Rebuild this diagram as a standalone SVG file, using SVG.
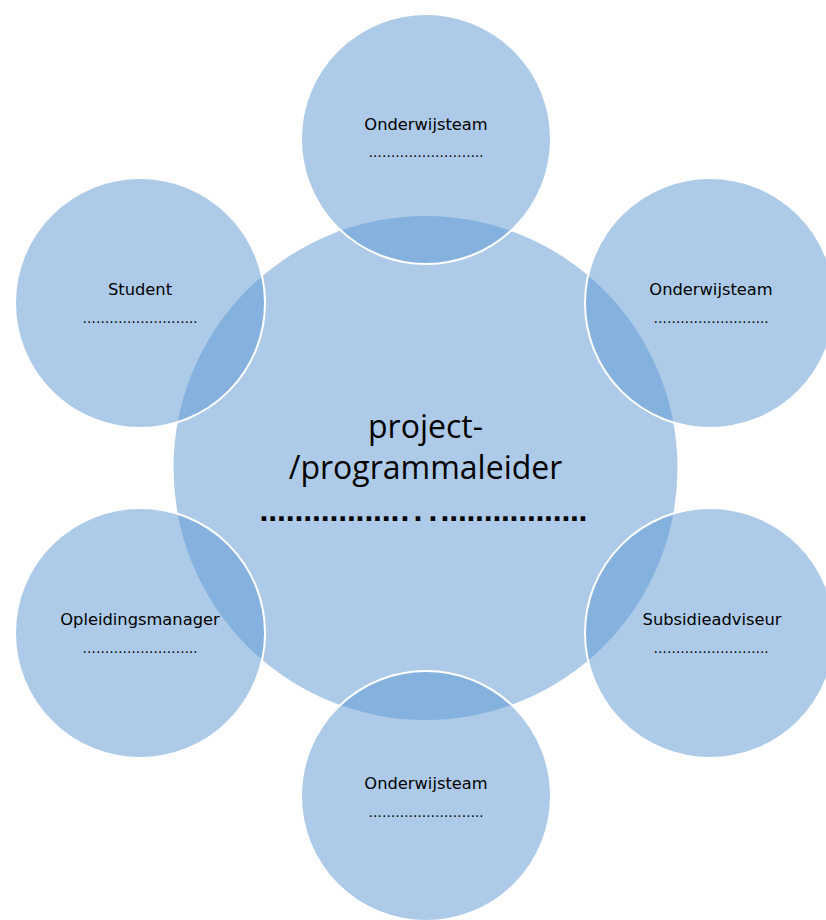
<svg xmlns="http://www.w3.org/2000/svg" width="826" height="920" viewBox="0 0 826 920">
<style>
.c{fill:#5b97d3;fill-opacity:0.5}
.s{fill:#5b97d3;fill-opacity:0.5;stroke:#ffffff;stroke-width:2}
.lbl{font-family:"DejaVu Sans",sans-serif;font-size:16.3px;fill:#000;text-anchor:middle}
.dots{font-family:"DejaVu Sans",sans-serif;font-size:13.3px;fill:#000;text-anchor:middle}
.big{font-family:"Open Sans","Liberation Sans",sans-serif;font-size:32px;fill:#000;text-anchor:middle}
.bigdots{font-family:"Liberation Sans",sans-serif;font-size:32px;font-weight:bold;fill:#000}
</style>
<rect width="826" height="920" fill="#ffffff"/>
<g id="connectors"></g>
<g id="center">
<circle class="c" cx="425.5" cy="468" r="252"/>
<text class="big" x="425.5" y="438">project-</text>
<text class="big" x="425.5" y="479">/programmaleider</text>
<text class="bigdots" y="521" x="259.6 268.3 277.1 285.8 294.5 303.3 312.0 320.7 329.4 338.2 346.9 355.6 364.4 373.1 381.8 390.6 400.6 413.6 428.6 440.6 449.2 457.9 466.5 475.1 483.7 492.4 501.0 509.6 518.2 526.9 535.5 544.1 552.7 561.4 570.0 578.6">....................................</text>
</g>
<g id="top">
<circle class="s" cx="426" cy="139" r="125"/>
<text class="lbl" x="426" y="130">Onderwijsteam</text>
<text class="dots" x="426" y="157">……………………..</text>
</g>
<g id="top-right">
<circle class="s" cx="710" cy="303" r="125"/>
<text class="lbl" x="711" y="295">Onderwijsteam</text>
<text class="dots" x="711" y="323">……………………..</text>
</g>
<g id="bottom-right">
<circle class="s" cx="710" cy="633" r="125"/>
<text class="lbl" x="712" y="625">Subsidieadviseur</text>
<text class="dots" x="711" y="653">……………………..</text>
</g>
<g id="bottom">
<circle class="s" cx="426" cy="796" r="125"/>
<text class="lbl" x="426" y="789">Onderwijsteam</text>
<text class="dots" x="426" y="817">……………………..</text>
</g>
<g id="bottom-left">
<circle class="s" cx="140" cy="633" r="125"/>
<text class="lbl" x="140" y="625">Opleidingsmanager</text>
<text class="dots" x="140" y="653">……………………..</text>
</g>
<g id="top-left">
<circle class="s" cx="140" cy="303" r="125"/>
<text class="lbl" x="140" y="295">Student</text>
<text class="dots" x="140" y="323">……………………..</text>
</g>
</svg>
